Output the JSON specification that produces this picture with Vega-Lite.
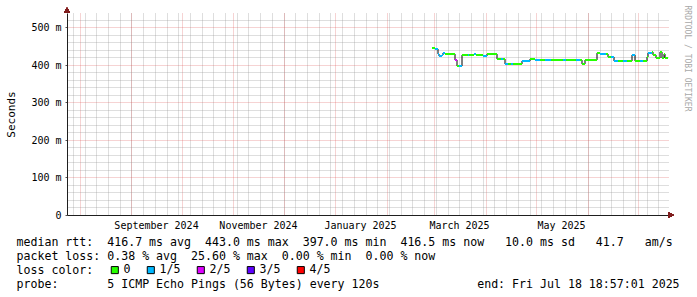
{
  "$schema": "https://vega.github.io/schema/vega-lite/v6.json",
  "width": 601,
  "height": 202,
  "autosize": {"type": "none"},
  "padding": {"left": 67, "top": 13, "right": 29, "bottom": 82},
  "background": "white",
  "config": {"view": {"stroke": null}, "font": "DejaVu Sans Mono"},
  "data": {
    "values": [
      {"start": "2025-02-27T12:00", "end": "2025-03-01T06:00", "median_rtt_ms": 444, "loss": "0"},
      {"start": "2025-03-01T06:00", "end": "2025-03-03T00:00", "median_rtt_ms": 443, "loss": "1/5"},
      {"start": "2025-03-03T00:00", "end": "2025-03-03T20:00", "median_rtt_ms": 430, "loss": "1/5"},
      {"start": "2025-03-03T20:00", "end": "2025-03-05T10:00", "median_rtt_ms": 424, "loss": "1/5"},
      {"start": "2025-03-05T10:00", "end": "2025-03-06T05:00", "median_rtt_ms": 426, "loss": "1/5"},
      {"start": "2025-03-06T05:00", "end": "2025-03-07T10:00", "median_rtt_ms": 432, "loss": "1/5"},
      {"start": "2025-03-07T10:00", "end": "2025-03-13T10:00", "median_rtt_ms": 428, "loss": "0"},
      {"start": "2025-03-13T10:00", "end": "2025-03-14T10:00", "median_rtt_ms": 414, "loss": "2/5"},
      {"start": "2025-03-14T10:00", "end": "2025-03-16T00:00", "median_rtt_ms": 398, "loss": "0"},
      {"start": "2025-03-16T00:00", "end": "2025-03-17T14:00", "median_rtt_ms": 397, "loss": "1/5"},
      {"start": "2025-03-17T14:00", "end": "2025-03-21T00:00", "median_rtt_ms": 427, "loss": "0"},
      {"start": "2025-03-21T00:00", "end": "2025-03-22T00:00", "median_rtt_ms": 427, "loss": "1/5"},
      {"start": "2025-03-22T00:00", "end": "2025-03-25T00:00", "median_rtt_ms": 427, "loss": "0"},
      {"start": "2025-03-25T00:00", "end": "2025-03-26T00:00", "median_rtt_ms": 428, "loss": "1/5"},
      {"start": "2025-03-26T00:00", "end": "2025-03-30T00:00", "median_rtt_ms": 427, "loss": "0"},
      {"start": "2025-03-30T00:00", "end": "2025-04-01T08:00", "median_rtt_ms": 423, "loss": "1/5"},
      {"start": "2025-04-01T08:00", "end": "2025-04-07T08:00", "median_rtt_ms": 428, "loss": "0"},
      {"start": "2025-04-07T08:00", "end": "2025-04-10T00:00", "median_rtt_ms": 415, "loss": "0"},
      {"start": "2025-04-10T00:00", "end": "2025-04-11T00:00", "median_rtt_ms": 415, "loss": "1/5"},
      {"start": "2025-04-11T00:00", "end": "2025-04-12T08:00", "median_rtt_ms": 415, "loss": "0"},
      {"start": "2025-04-12T08:00", "end": "2025-04-14T00:00", "median_rtt_ms": 402, "loss": "1/5"},
      {"start": "2025-04-14T00:00", "end": "2025-04-16T00:00", "median_rtt_ms": 402, "loss": "0"},
      {"start": "2025-04-16T00:00", "end": "2025-04-17T00:00", "median_rtt_ms": 402, "loss": "1/5"},
      {"start": "2025-04-17T00:00", "end": "2025-04-22T10:00", "median_rtt_ms": 402, "loss": "0"},
      {"start": "2025-04-22T10:00", "end": "2025-04-27T05:00", "median_rtt_ms": 410, "loss": "1/5"},
      {"start": "2025-04-27T05:00", "end": "2025-04-30T00:00", "median_rtt_ms": 415, "loss": "0"},
      {"start": "2025-04-30T00:00", "end": "2025-05-03T00:00", "median_rtt_ms": 413, "loss": "1/5"},
      {"start": "2025-05-03T00:00", "end": "2025-05-06T00:00", "median_rtt_ms": 414, "loss": "0"},
      {"start": "2025-05-06T00:00", "end": "2025-05-10T00:00", "median_rtt_ms": 412, "loss": "1/5"},
      {"start": "2025-05-10T00:00", "end": "2025-05-17T00:00", "median_rtt_ms": 413, "loss": "0"},
      {"start": "2025-05-17T00:00", "end": "2025-05-19T00:00", "median_rtt_ms": 412, "loss": "1/5"},
      {"start": "2025-05-19T00:00", "end": "2025-05-25T00:00", "median_rtt_ms": 413, "loss": "0"},
      {"start": "2025-05-25T00:00", "end": "2025-05-27T00:00", "median_rtt_ms": 414, "loss": "1/5"},
      {"start": "2025-05-27T00:00", "end": "2025-05-28T16:00", "median_rtt_ms": 414, "loss": "0"},
      {"start": "2025-05-28T16:00", "end": "2025-05-29T22:00", "median_rtt_ms": 402, "loss": "0"},
      {"start": "2025-05-29T22:00", "end": "2025-06-06T10:00", "median_rtt_ms": 413, "loss": "0"},
      {"start": "2025-06-06T10:00", "end": "2025-06-08T00:00", "median_rtt_ms": 432, "loss": "0"},
      {"start": "2025-06-08T00:00", "end": "2025-06-12T00:00", "median_rtt_ms": 428, "loss": "1/5"},
      {"start": "2025-06-12T00:00", "end": "2025-06-13T00:00", "median_rtt_ms": 428, "loss": "0"},
      {"start": "2025-06-13T00:00", "end": "2025-06-15T00:00", "median_rtt_ms": 421, "loss": "0"},
      {"start": "2025-06-15T00:00", "end": "2025-06-16T10:00", "median_rtt_ms": 421, "loss": "1/5"},
      {"start": "2025-06-16T10:00", "end": "2025-06-19T00:00", "median_rtt_ms": 411, "loss": "1/5"},
      {"start": "2025-06-19T00:00", "end": "2025-06-22T00:00", "median_rtt_ms": 411, "loss": "0"},
      {"start": "2025-06-22T00:00", "end": "2025-06-24T00:00", "median_rtt_ms": 410, "loss": "1/5"},
      {"start": "2025-06-24T00:00", "end": "2025-06-27T00:00", "median_rtt_ms": 411, "loss": "0"},
      {"start": "2025-06-27T00:00", "end": "2025-06-29T00:00", "median_rtt_ms": 426, "loss": "1/5"},
      {"start": "2025-06-29T00:00", "end": "2025-07-02T00:00", "median_rtt_ms": 409, "loss": "0"},
      {"start": "2025-07-02T00:00", "end": "2025-07-04T00:00", "median_rtt_ms": 409, "loss": "1/5"},
      {"start": "2025-07-04T00:00", "end": "2025-07-06T00:00", "median_rtt_ms": 409, "loss": "0"},
      {"start": "2025-07-06T00:00", "end": "2025-07-07T00:00", "median_rtt_ms": 422, "loss": "0"},
      {"start": "2025-07-07T00:00", "end": "2025-07-09T00:00", "median_rtt_ms": 432, "loss": "1/5"},
      {"start": "2025-07-09T00:00", "end": "2025-07-10T00:00", "median_rtt_ms": 433, "loss": "0"},
      {"start": "2025-07-10T00:00", "end": "2025-07-11T08:00", "median_rtt_ms": 426, "loss": "0"},
      {"start": "2025-07-11T08:00", "end": "2025-07-14T00:00", "median_rtt_ms": 417, "loss": "0"},
      {"start": "2025-07-14T00:00", "end": "2025-07-15T00:00", "median_rtt_ms": 433, "loss": "0"},
      {"start": "2025-07-15T00:00", "end": "2025-07-16T12:00", "median_rtt_ms": 417, "loss": "0"},
      {"start": "2025-07-16T12:00", "end": "2025-07-17T00:00", "median_rtt_ms": 428, "loss": "0"},
      {"start": "2025-07-17T00:00", "end": "2025-07-18T12:00", "median_rtt_ms": 417, "loss": "0"}
    ]
  },
  "resolve": {"axis": {"x": "independent", "y": "independent"}},
  "layer": [
    {
      "mark": {"type": "line", "interpolate": "step-after", "color": "black", "strokeWidth": 1},
      "encoding": {
        "x": {
          "field": "start", "type": "temporal",
          "scale": {"domain": [{"year": 2024, "month": 7, "date": 24, "hours": 12}, {"year": 2025, "month": 7, "date": 18, "hours": 19}], "nice": false, "round": true, "padding": 0},
          "axis": {"orient": "bottom", "tickCount": {"interval": "week", "step": 1}, "grid": true, "gridColor": "#8f8f8f", "gridOpacity": 0.6, "gridDash": [1, 1], "gridWidth": 1, "labels": false, "ticks": false, "domain": false, "title": null}
        },
        "y": {
          "field": "median_rtt_ms", "type": "quantitative",
          "scale": {"domain": [0, 538], "nice": false, "zero": false, "round": true, "padding": 0},
          "axis": {"orient": "left", "values": [20, 40, 60, 80, 120, 140, 160, 180, 220, 240, 260, 280, 320, 340, 360, 380, 420, 440, 460, 480, 520], "grid": true, "gridColor": "#8f8f8f", "gridOpacity": 0.6, "gridDash": [1, 1], "gridWidth": 1, "labels": false, "ticks": false, "domain": false, "title": null}
        }
      }
    },
    {
      "mark": {"type": "bar", "size": 2, "opacity": 1},
      "encoding": {
        "x": {
          "field": "start", "type": "temporal",
          "scale": {"domain": [{"year": 2024, "month": 7, "date": 24, "hours": 12}, {"year": 2025, "month": 7, "date": 18, "hours": 19}], "nice": false, "round": true, "padding": 0},
          "axis": {
            "orient": "bottom", "tickCount": {"interval": "month", "step": 1},
            "grid": true, "gridColor": "#de4f4f", "gridOpacity": 0.5, "gridDash": [1, 1], "gridWidth": 1,
            "domain": true, "domainColor": "#1f1f1f", "domainWidth": 1,
            "ticks": false,
            "labelExpr": "(month(datum.value) % 2 == 0 && datum.value < datetime(2025, 5, 15)) ? timeFormat(datum.value, '%B %Y') : ''",
            "labelOffset": 25, "labelFlush": false, "labelOverlap": false, "labelPadding": 5,
            "labelFont": "DejaVu Sans Mono", "labelFontSize": 10, "labelColor": "black",
            "title": [
              "median rtt:\u00a0\u00a0416.7 ms avg\u00a0\u00a0443.0 ms max\u00a0\u00a0397.0 ms min\u00a0\u00a0416.5 ms now\u00a0\u00a0\u00a010.0 ms sd\u00a0\u00a0\u00a041.7\u00a0\u00a0\u00a0am/s",
              "packet loss: 0.38 % avg\u00a0\u00a025.60 % max\u00a0\u00a00.00 % min\u00a0\u00a00.00 % now",
              "loss color:",
              "probe:\u00a0\u00a0\u00a0\u00a0\u00a0\u00a0\u00a05 ICMP Echo Pings (56 Bytes) every 120s\u00a0\u00a0\u00a0\u00a0\u00a0\u00a0\u00a0\u00a0\u00a0\u00a0\u00a0\u00a0\u00a0\u00a0end: Fri Jul 18 18:57:01 2025"
            ],
            "titleFont": "DejaVu Sans Mono", "titleFontSize": 11.6, "titleFontWeight": "normal", "titleColor": "black",
            "titleAnchor": "start", "titleAlign": "left", "titleBaseline": "top", "titleAngle": 0,
            "titleX": -51, "titleY": 21, "titleLineHeight": 14
          }
        },
        "x2": {"field": "end"},
        "y": {
          "field": "median_rtt_ms", "type": "quantitative",
          "scale": {"domain": [0, 538], "nice": false, "zero": false, "round": true, "padding": 0},
          "axis": {
            "orient": "left", "values": [0, 100, 200, 300, 400, 500],
            "grid": true, "gridColor": "#de4f4f", "gridOpacity": 0.5, "gridDash": [1, 1], "gridWidth": 1,
            "domain": true, "domainColor": "#1f1f1f", "domainWidth": 1,
            "ticks": true, "tickSize": 2, "tickColor": "#555555",
            "labelExpr": "datum.value == 0 ? '0' : datum.value + ' m'",
            "labelPadding": 4, "labelFont": "DejaVu Sans Mono", "labelFontSize": 10, "labelColor": "black",
            "title": "Seconds", "titleFont": "DejaVu Sans Mono", "titleFontSize": 11, "titleFontWeight": "normal", "titleColor": "black", "titlePadding": 14
          }
        },
        "color": {
          "field": "loss", "type": "nominal",
          "scale": {"domain": ["0", "1/5", "2/5", "3/5", "4/5"], "range": ["#26ff00", "#00b8ff", "#dd00ff", "#5e00ff", "#ff0000"]},
          "legend": {
            "orient": "none", "legendX": 42, "legendY": 251, "direction": "horizontal", "title": null,
            "symbolType": "square", "symbolSize": 50, "symbolStrokeWidth": 1, "symbolStrokeColor": "black",
            "labelFont": "DejaVu Sans Mono", "labelFontSize": 11.6, "labelColor": "black", "labelOffset": 3, "columnPadding": 14
          }
        }
      }
    },
    {
      "mark": {"type": "point", "shape": "triangle-up", "filled": true, "size": 30, "color": "#801f1f", "opacity": 1, "clip": false},
      "encoding": {
        "x": {"datum": {"year": 2024, "month": 7, "date": 24, "hours": 12}, "type": "temporal", "axis": null,
          "scale": {"domain": [{"year": 2024, "month": 7, "date": 24, "hours": 12}, {"year": 2025, "month": 7, "date": 18, "hours": 19}], "nice": false, "round": true, "padding": 0}},
        "y": {"datum": 545, "type": "quantitative",
          "scale": {"domain": [0, 538], "nice": false, "zero": false, "round": true, "padding": 0},
          "axis": {"orient": "right", "labels": false, "ticks": false, "domain": false, "grid": false,
            "title": "RRDTOOL / TOBI OETIKER", "titleAngle": 90, "titleAlign": "left", "titleBaseline": "middle",
            "titleX": 18, "titleY": -8, "titleFont": "DejaVu Sans Mono", "titleFontSize": 8, "titleFontWeight": "normal", "titleColor": "#a8a8a8"}}
      }
    },
    {
      "mark": {"type": "point", "shape": "triangle-right", "filled": true, "size": 30, "color": "#801f1f", "opacity": 1, "clip": false},
      "encoding": {
        "x": {"datum": {"year": 2025, "month": 7, "date": 20, "hours": 12}, "type": "temporal", "axis": null,
          "scale": {"domain": [{"year": 2024, "month": 7, "date": 24, "hours": 12}, {"year": 2025, "month": 7, "date": 18, "hours": 19}], "nice": false, "round": true, "padding": 0}},
        "y": {"datum": 0, "type": "quantitative", "axis": null,
          "scale": {"domain": [0, 538], "nice": false, "zero": false, "round": true, "padding": 0}}
      }
    }
  ]
}
